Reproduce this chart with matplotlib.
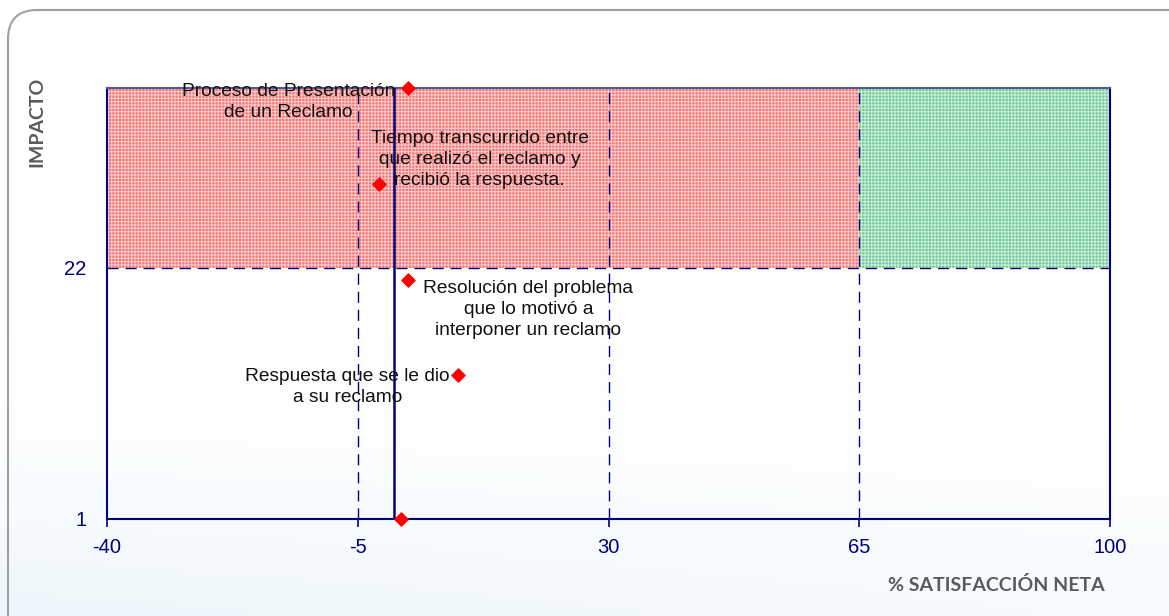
import matplotlib
matplotlib.use("Agg")
import matplotlib.pyplot as plt
import numpy as np
from matplotlib.patches import Rectangle, FancyBboxPatch

# ---- data ----
labels = ["Proceso de Presentación\nde un Reclamo",
          "Tiempo transcurrido entre\nque realizó el reclamo y\nrecibió la respuesta.",
          "Resolución del problema\nque lo motivó a\ninterponer un reclamo",
          "Respuesta que se le dio\na su reclamo",
          ""]
sat_x = [2, -2, 2, 9, 1]
impact_y = [37, 29, 21, 13, 1]
label_x = [-14.7, 12.0, 18.8, -6.4]
label_y = [35.8, 31.0, 18.5, 12.0]

x_ticks = [-40, -5, 30, 65, 100]
y_ticks = [1, 22]
x_min, x_max = -40, 100
y_min, y_max = 1, 37
y_split = 22
x_split = 65
mean_x = 0

navy = "#000080"
plt.rcParams["axes.unicode_minus"] = False
plt.rcParams["hatch.linewidth"] = 0.8

fig = plt.figure(figsize=(11.69, 6.16), dpi=100)

# background gradient
bg = fig.add_axes([0, 0, 1, 1], zorder=-10)
yy, xx = np.mgrid[0:1:200j, 0:1:300j]
val = np.clip((yy - 0.55) / 0.45, 0, 1) ** 1.5
val = val * (1 - 0.5 * xx)
img = np.ones((200, 300, 3))
img[..., 0] = 1 - 0.07 * val
img[..., 1] = 1 - 0.035 * val
img[..., 2] = 1 - 0.015 * val
bg.imshow(img, extent=[0, 1, 0, 1], aspect="auto", origin="upper")
bg.set_xlim(0, 1); bg.set_ylim(0, 1)
bg.axis("off")
frame = FancyBboxPatch((8 / 1169, -0.05), 1.2, (616 - 10) / 616 + 0.05,
                       boxstyle="round,pad=0,rounding_size=0.025",
                       transform=fig.transFigure, facecolor="none",
                       edgecolor="#a0a0a0", linewidth=1.5, mutation_aspect=1169/616)
bg.add_patch(frame)

ax = fig.add_axes([107 / 1169, 97 / 616, (1110 - 107) / 1169, (519 - 88) / 616])
ax.set_facecolor("none")
ax.set_xlim(x_min, x_max)
ax.set_ylim(y_min, y_max)

red_rect = Rectangle((x_min, y_split), x_split - x_min, y_max - y_split,
                     facecolor="#f47474", edgecolor="#fccaca", hatch="+++++", linewidth=0, zorder=1)
green_rect = Rectangle((x_split, y_split), x_max - x_split, y_max - y_split,
                       facecolor="#6cc996", edgecolor="#ccecd9", hatch="+++++", linewidth=0, zorder=1)
ax.add_patch(red_rect)
ax.add_patch(green_rect)

for xv in x_ticks[1:4]:
    ax.axvline(xv, color=navy, linestyle=(0, (8, 5)), linewidth=1.0, zorder=2)
ax.axhline(y_split, color=navy, linestyle=(0, (8, 5)), linewidth=1.0, zorder=2)
ax.axvline(mean_x, color=navy, linewidth=1.8, zorder=3)

ax.scatter(sat_x, impact_y, marker="D", s=45, color="#ff0000", zorder=5, clip_on=False)

for t, lx, ly in zip(labels, label_x, label_y):
    ax.text(lx, ly, t, ha="center", va="center", multialignment="center",
            fontsize=13.8, family="Liberation Sans", color="#111111", zorder=6,
            linespacing=1.3)

for s in ["left", "bottom", "right"]:
    ax.spines[s].set_color(navy)
    ax.spines[s].set_linewidth(1.5)
ax.spines["top"].set_color("#4b5b9b")
ax.spines["top"].set_linewidth(1.5)

ax.set_xticks(x_ticks)
ax.set_yticks(y_ticks)
ax.tick_params(axis="x", colors=navy, labelsize=14.5, length=6, width=1.2, pad=8,
               direction="out")
ax.tick_params(axis="y", colors=navy, labelsize=14.5, length=0, pad=15)
for lab in ax.get_xticklabels() + ax.get_yticklabels():
    lab.set_family("Liberation Sans")

fig.text(37 / 1169, 1 - 122 / 616, "IMPACTO", rotation=90, ha="center", va="center",
         fontsize=14, fontweight="bold", family="Lato", color="#5a5a5a")
fig.text(996 / 1169, 1 - 585 / 616, "% SATISFACCIÓN NETA", ha="center", va="center",
         fontsize=14, fontweight="bold", family="Lato", color="#5a5a5a")

fig.savefig("out.png", dpi=100)
